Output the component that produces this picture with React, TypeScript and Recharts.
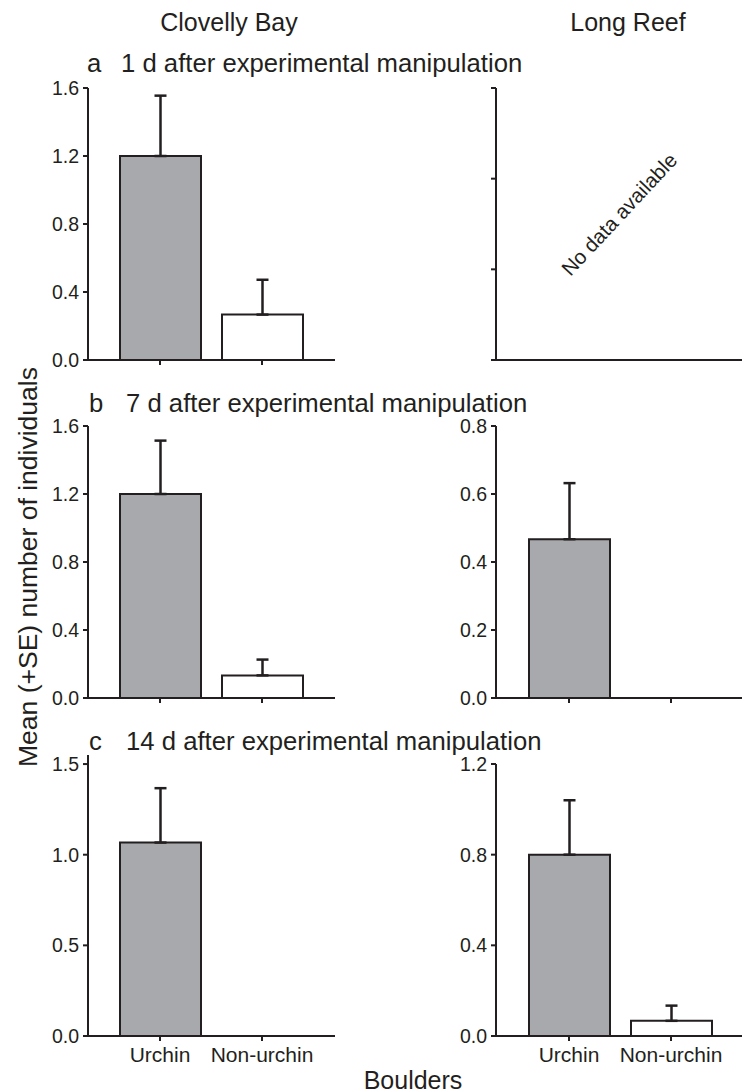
import { Bar, BarChart, Cell, ErrorBar, XAxis, YAxis } from 'recharts'

const boulders = ['Urchin', 'Non-urchin']
const barFills = ['#a7a9ac', '#ffffff']

const clovelly1dMean = [1.2, 0.267]
const clovelly1dSE = [0.355, 0.205]
const clovelly7dMean = [1.2, 0.133]
const clovelly7dSE = [0.314, 0.093]
const clovelly14dMean = [1.067, 0]
const clovelly14dSE = [0.3, 0]

const longReef1dMean: (number | null)[] = [null, null]
const longReef7dMean = [0.467, 0]
const longReef7dSE = [0.165, 0]
const longReef14dMean = [0.8, 0.067]
const longReef14dSE = [0.24, 0.067]

const ticksA = [0, 0.4, 0.8, 1.2, 1.6]
const ticksEmpty = [0, 1, 2, 3]
const ticksB = [0, 0.4, 0.8, 1.2, 1.6]
const ticksBRight = [0, 0.2, 0.4, 0.6, 0.8]
const ticksC = [0, 0.5, 1.0, 1.5]
const ticksCRight = [0, 0.4, 0.8, 1.2]

const ink = '#231f20'
const font = '"Liberation Sans", Arial, Helvetica, sans-serif'

type PanelProps = {
  left: number
  top: number
  width: number
  height: number
  marginTop: number
  yWidth: number
  pad: { left: number; right: number }
  means: (number | null)[]
  ses?: number[]
  domain: [number, number]
  ticks: number[]
  decimals: number
  showYLabels?: boolean
  showXLabels?: boolean
  xTicks?: boolean
  xHeight: number
}

function Panel(p: PanelProps) {
  const data = boulders.map((name, i) => ({
    name,
    mean: p.means[i],
    err: p.ses ? [0, p.ses[i]] : undefined,
  }))

  // custom ticks so the font size sticks
  const yTick = (t: any) =>
    p.showYLabels === false ? (
      <g />
    ) : (
      <text x={t.x} y={t.y} dy={7} textAnchor="end" fontSize={19.5} fill={ink} fontFamily={font}>
        {Number(t.payload.value).toFixed(p.decimals)}
      </text>
    )

  const xTick = (t: any) =>
    p.showXLabels ? (
      <text x={t.x} y={t.y} dy={15} textAnchor="middle" fontSize={21} fill={ink} fontFamily={font}>
        {t.payload.value}
      </text>
    ) : (
      <g />
    )

  return (
    <div style={{ position: 'absolute', left: p.left, top: p.top }}>
      <BarChart
        width={p.width}
        height={p.height}
        data={data}
        margin={{ top: p.marginTop, right: p.left === 0 ? 5 : 0, bottom: 0, left: 0 }}
        barSize={81}
      >
        <XAxis
          dataKey="name"
          padding={p.pad}
          height={p.xHeight}
          axisLine={{ stroke: ink, strokeWidth: 2 }}
          tickLine={p.xTicks === false ? false : { stroke: ink, strokeWidth: 2 }}
          tickSize={5}
          tickMargin={6}
          tick={xTick}
          interval={0}
        />
        <YAxis
          width={p.yWidth}
          domain={p.domain}
          ticks={p.ticks}
          allowDataOverflow
          axisLine={{ stroke: ink, strokeWidth: 2 }}
          tickLine={{ stroke: ink, strokeWidth: 2 }}
          tickSize={5}
          tickMargin={4}
          tick={yTick}
        />
        <Bar dataKey="mean" stroke={ink} strokeWidth={2} isAnimationActive={false}>
          {data.map((d, i) => (
            <Cell key={d.name} fill={barFills[i]} />
          ))}
          {p.ses && (
            <ErrorBar dataKey="err" width={6} stroke={ink} strokeWidth={2.5} direction="y" isAnimationActive={false} />
          )}
        </Bar>
      </BarChart>
    </div>
  )
}

const leftCol = { left: 0, width: 340, yWidth: 88, pad: { left: 21, right: 22 } }
const rightCol = { left: 406, width: 336, yWidth: 90, pad: { left: 22, right: 20 } }

export default function App() {
  const txt = { fontFamily: font, fill: ink }
  return (
    <div style={{ position: 'absolute', left: 0, top: 0, width: 742, height: 1092, background: '#fff', overflow: 'hidden' }}>
      {/* row a */}
      <Panel {...leftCol} top={78} height={312} marginTop={10} xHeight={30}
        means={clovelly1dMean} ses={clovelly1dSE} domain={[0, 1.6]} ticks={ticksA} decimals={1} />
      <Panel {...rightCol} top={78} height={312} marginTop={10} xHeight={30}
        means={longReef1dMean} domain={[0, 3]} ticks={ticksEmpty} decimals={0}
        showYLabels={false} xTicks={false} />
      {/* row b */}
      <Panel {...leftCol} top={416} height={312} marginTop={10} xHeight={30}
        means={clovelly7dMean} ses={clovelly7dSE} domain={[0, 1.6]} ticks={ticksB} decimals={1} />
      <Panel {...rightCol} top={416} height={312} marginTop={10} xHeight={30}
        means={longReef7dMean} ses={longReef7dSE} domain={[0, 0.8]} ticks={ticksBRight} decimals={1} />
      {/* row c */}
      <Panel {...leftCol} top={745} height={331} marginTop={10} xHeight={40}
        means={clovelly14dMean} ses={clovelly14dSE} domain={[0, 1.55]} ticks={ticksC} decimals={1} showXLabels />
      <Panel {...rightCol} top={745} height={331} marginTop={19} xHeight={40}
        means={longReef14dMean} ses={longReef14dSE} domain={[0, 1.2]} ticks={ticksCRight} decimals={1} showXLabels />

      <svg width={742} height={1092} style={{ position: 'absolute', left: 0, top: 0, pointerEvents: 'none' }}>
        <text {...txt} x={229} y={31} fontSize={25} textAnchor="middle">Clovelly Bay</text>
        <text {...txt} x={628} y={31} fontSize={25} textAnchor="middle">Long Reef</text>

        <text {...txt} x={87} y={72} fontSize={25.7}>a</text>
        <text {...txt} x={121} y={72} fontSize={25.7}>1 d after experimental manipulation</text>
        <text {...txt} x={89} y={412} fontSize={25.7}>b</text>
        <text {...txt} x={126} y={412} fontSize={25.7}>7 d after experimental manipulation</text>
        <text {...txt} x={89} y={750} fontSize={25.7}>c</text>
        <text {...txt} x={126} y={750} fontSize={25.7}>14 d after experimental manipulation</text>

        <text {...txt} x={37} y={567} fontSize={26.5} textAnchor="middle" transform="rotate(-90 37 567)">
          Mean (+SE) number of individuals
        </text>
        <text {...txt} x={413} y={1089} fontSize={25} textAnchor="middle">Boulders</text>
        <text {...txt} x={619} y={214} fontSize={20.5} textAnchor="middle" dominantBaseline="central"
          transform="rotate(-47 619 214)">
          No data available
        </text>
      </svg>
    </div>
  )
}
